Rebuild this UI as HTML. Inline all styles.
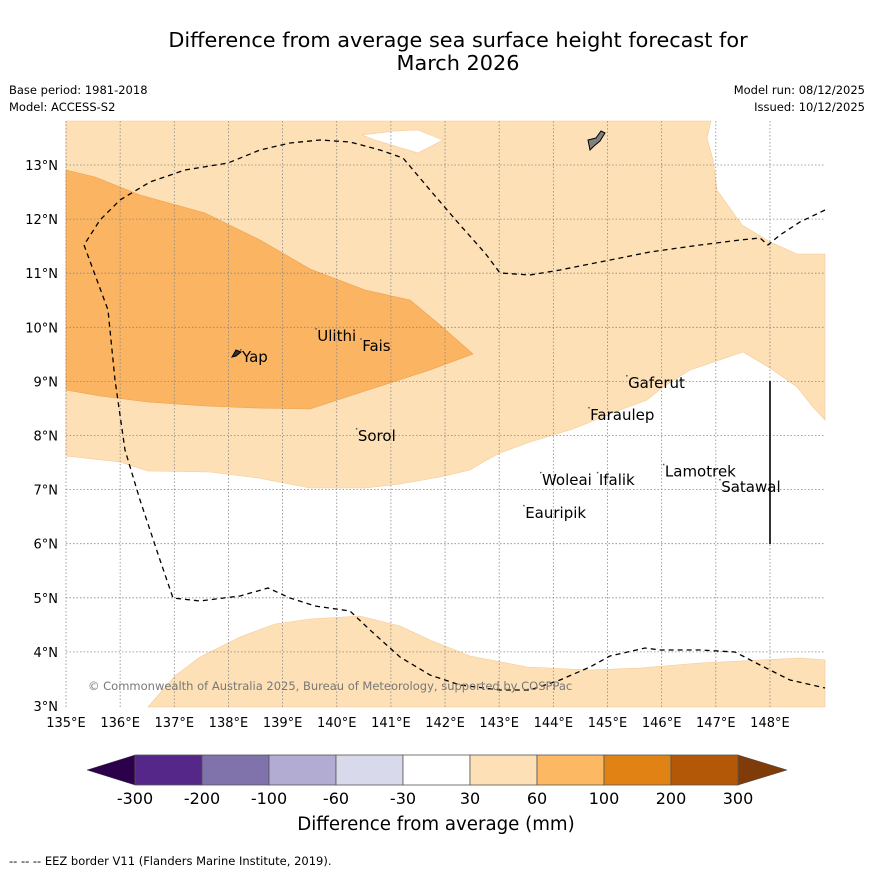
<!DOCTYPE html>
<html><head><meta charset="utf-8"><style>
body{margin:0;background:#fff;font-family:"Liberation Sans","DejaVu Sans",sans-serif;}
svg text{font-family:"DejaVu Sans","Liberation Sans",sans-serif;}
</style></head><body>
<svg id="c" width="873" height="873" xmlns="http://www.w3.org/2000/svg">
<rect width="873" height="873" fill="#fff"/>
<text x="458" y="47" font-size="20.8" text-anchor="middle">Difference from average sea surface height forecast for</text>
<text x="458" y="70" font-size="20.8" text-anchor="middle">March 2026</text>
<text x="9" y="94" font-size="11.5">Base period: 1981-2018</text>
<text x="9" y="111" font-size="11.5">Model: ACCESS-S2</text>
<text x="865" y="94" font-size="11.5" text-anchor="end">Model run: 08/12/2025</text>
<text x="865" y="111" font-size="11.5" text-anchor="end">Issued: 10/12/2025</text>
<g id="map"></g>
<g id="cb"></g>
<text x="436" y="830" font-size="18.2" text-anchor="middle">Difference from average (mm)</text>
<text x="9" y="865" font-size="11.5">--  --  -- EEZ border V11 (Flanders Marine Institute, 2019).</text>
</svg>
<script>
const lonTicks=[135,136,137,138,139,140,141,142,143,144,145,146,147,148];
const latTicks=[3,4,5,6,7,8,9,10,11,12,13];
const cbLevels=["-300","-200","-100","-60","-30","30","60","100","200","300"];
const cbColors=["#542788","#8073ac","#b2abd2","#d8daeb","#ffffff","#fee0b6","#fdb863","#e08214","#b35806"];
const places=[["Yap",138.25,9.45],["Ulithi",139.64,9.84],["Fais",140.47,9.65],["Sorol",140.39,7.99],["Gaferut",145.38,8.97],["Faraulep",144.68,8.38],["Woleai",143.79,7.18],["Ifalik",144.84,7.18],["Lamotrek",146.06,7.33],["Satawal",147.1,7.05],["Eauripik",143.48,6.57]];
const X0=66,X1=825,Y0=121,Y1=707;
const lx=l=>66+(l-135)*54.15, ly=l=>706-(l-3)*54.1;
const NS="http://www.w3.org/2000/svg";
function mk(p,t,a){const e=document.createElementNS(NS,t);for(const k in a)e.setAttribute(k,a[k]);p.appendChild(e);return e;}
const map=document.getElementById('map');
const pts=a=>a.map(p=>p.join(',')).join(' ');
let polyA=[[66,121],[711,121],[707,138],[713,160],[717,190],[742,225],[770,242],[797,254],[825,254],[825,420],[813,407],[797,387],[770,368],[743,352],[690,370],[663,387],[647,400],[620,410],[573,429],[530,442],[500,453],[485,461],[470,470],[440,477],[400,484],[365,488],[310,488],[258,478],[210,472],[148,471],[120,462],[66,456]];
let e=mk(map,'polygon',{points:pts(polyA),fill:'#fde0b6',stroke:'#f5c996','stroke-width':0.6});

let polyB=[[148,707],[175,676],[200,657],[240,637],[275,624],[310,619],[360,616],[400,626],[430,640],[470,656],[527,667],[590,670],[640,668],[700,663],[760,660],[800,658],[825,660],[825,707]];
e=mk(map,'polygon',{points:pts(polyB),fill:'#fde0b6',stroke:'#f5c996','stroke-width':0.6});

let polyC=[[66,170],[95,177],[140,195],[205,213],[260,240],[310,269],[365,290],[410,300],[440,325],[473,354],[430,370],[365,391],[310,409],[255,408],[205,406],[148,402],[100,396],[66,390]];
e=mk(map,'polygon',{points:pts(polyC),fill:'#fbb462',stroke:'#e9a050','stroke-width':0.6});

e=mk(map,'polygon',{points:pts([[362,135],[395,131],[418,130],[443,140],[418,153],[375,140]]),fill:'#fff',stroke:'#f5c996','stroke-width':0.6});

lonTicks.forEach(l=>{if(l>135){e=mk(map,'line',{x1:lx(l),x2:lx(l),y1:Y0,y2:Y1,stroke:'#888','stroke-width':0.8,'stroke-dasharray':'1.5,2'});
}
e=mk(map,'text',{x:lx(l),y:727,'font-size':13,'text-anchor':'middle'});e.textContent=l+'°E';
});
latTicks.forEach(l=>{if(l>3){e=mk(map,'line',{x1:X0,x2:X1,y1:ly(l),y2:ly(l),stroke:'#888','stroke-width':0.8,'stroke-dasharray':'1.5,2'});
}
e=mk(map,'text',{x:58,y:ly(l)+5,'font-size':13,'text-anchor':'end'});e.textContent=l+'°N';
});
e=mk(map,'line',{x1:X0,x2:X0,y1:Y0,y2:Y1,stroke:'#888','stroke-width':0.8,'stroke-dasharray':'1.5,2'});

let eez=[[825,210],[800,222],[780,235],[768,245],[760,238],[740,240],[700,245],[650,252],[600,262],[560,270],[530,275],[500,273],[485,253],[460,225],[430,190],[403,158],[380,150],[350,142],[320,140],[290,143],[260,150],[228,163],[185,170],[150,182],[120,200],[100,220],[84,245],[108,310],[115,380],[125,450],[140,500],[160,560],[173,598],[200,601],[240,596],[268,588],[290,598],[315,606],[350,611],[370,630],[400,657],[430,675],[460,685],[500,690],[530,690],[560,680],[590,667],[610,656],[645,648],[660,650],[700,650],[735,652],[760,665],[790,680],[825,688]];
e=mk(map,'polyline',{points:pts(eez),fill:'none',stroke:'#000','stroke-width':1.3,'stroke-dasharray':'5,4'});

e=mk(map,'line',{x1:770,x2:770,y1:381,y2:544,stroke:'#000','stroke-width':1.6});

e=mk(map,'path',{d:'M588,140 L596,138 L601,131 L605,133 L600,141 L594,146 L590,150 Z',fill:'#808080',stroke:'#000','stroke-width':1});

e=mk(map,'path',{d:'M232,357 L236,350 L241,352 L236,356 Z',fill:'#333',stroke:'#000','stroke-width':1});

places.forEach(p=>{e=mk(map,'text',{x:lx(p[1]),y:ly(p[2])+5,'font-size':15});e.textContent=p[0];

const d=mk(map,'rect',{x:lx(p[1])-2,y:ly(p[2])-8,width:1.5,height:1.5,fill:'#555'});
});
e=mk(map,'text',{x:88,y:690,'font-size':11.5,fill:'#777'});e.textContent='© Commonwealth of Australia 2025, Bureau of Meteorology, supported by COSPPac';

const cb=document.getElementById('cb');
const cx=i=>135+i*67;
e=mk(cb,'polygon',{points:'135,755 87,770 135,785',fill:'#2d004b',stroke:'#444','stroke-width':0.5});

e=mk(cb,'polygon',{points:'738,755 787,770 738,785',fill:'#7f3b08',stroke:'#444','stroke-width':0.5});

cbColors.forEach((c,i)=>{e=mk(cb,'rect',{x:cx(i),y:755,width:67,height:30,fill:c,stroke:'#555','stroke-width':0.8});
});
cbLevels.forEach((t,i)=>{e=mk(cb,'text',{x:cx(i),y:804,'font-size':16,'text-anchor':'middle'});e.textContent=t;
});
</script>
</body></html>
